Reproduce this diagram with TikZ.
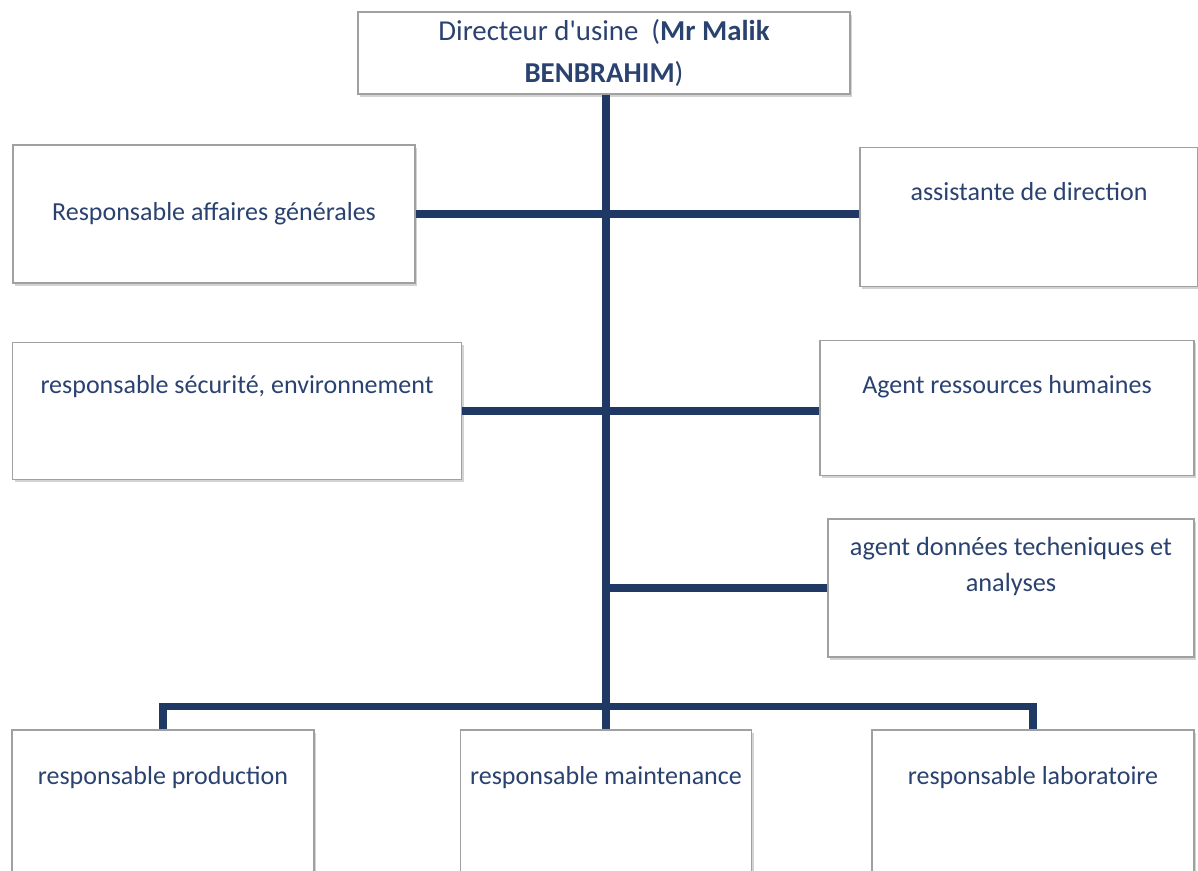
\documentclass[tikz,border=0pt]{standalone}
\usepackage{fontspec}
\setmainfont{Carlito}
\usetikzlibrary{shadows}

\definecolor{navy}{RGB}{31,56,100}
\definecolor{boxgray}{RGB}{160,160,160}
\definecolor{textblue}{RGB}{42,66,112}

\tikzset{
  orgbox/.style={draw=boxgray, line width=1.1pt, fill=white, text=textblue,
    align=center, inner sep=0pt,
    drop shadow={shadow xshift=1.5pt, shadow yshift=-2pt, opacity=0.35},
    font=\fontsize{18.5}{22}\selectfont},
  liftby/.style={text height=0pt, text depth=#1},
  link/.style={draw=navy, line width=5pt}
}

\begin{document}
\begin{tikzpicture}[x=0.025cm, y=-0.025cm]

  \useasboundingbox (0,0) rectangle (1198,870);

  % boxes
  \node[orgbox, minimum width=492*0.025cm, minimum height=82*0.025cm,
    font=\fontsize{20.5}{30}\selectfont] (dir) at (604,53)
    {Directeur d\textquotesingle usine\ \ (\textbf{Mr Malik}\\ \textbf{BENBRAHIM})};

  \node[orgbox, minimum width=402*0.025cm, minimum height=138*0.025cm] (aff) at (214,214)
    {Responsable affaires générales};
  \node[orgbox, minimum width=338*0.025cm, minimum height=139*0.025cm, liftby=23.5pt] (assist) at (1029,217)
    {assistante de direction};

  \node[orgbox, minimum width=449*0.025cm, minimum height=137*0.025cm, liftby=25pt] (secu) at (237,411)
    {responsable sécurité, environnement};
  \node[orgbox, minimum width=374*0.025cm, minimum height=135*0.025cm, liftby=20.6pt] (rh) at (1007,408)
    {Agent ressources humaines};

  \node[orgbox, minimum width=366*0.025cm, minimum height=138*0.025cm,
    font=\fontsize{18.7}{25}\selectfont, text height=4.3pt, text depth=0pt] (donnees) at (1011,588)
    {agent données techeniques et\\ analyses};

  \node[orgbox, minimum width=302*0.025cm, minimum height=142*0.025cm, liftby=23pt] (prod) at (163,801)
    {responsable production};
  \node[orgbox, minimum width=291*0.025cm, minimum height=142*0.025cm, liftby=23pt] (maint) at (606,801)
    {responsable maintenance};
  \node[orgbox, minimum width=322*0.025cm, minimum height=142*0.025cm, liftby=23pt] (labo) at (1033,801)
    {responsable laboratoire};

  % links
  \draw[link] (dir.south -| maint.north) -- (maint.north);
  \draw[link] (aff.east) -- (aff.east -| assist.west);
  \draw[link] (secu.east) -- (secu.east -| rh.west);
  \draw[link] (donnees.west) -- (donnees.west -| maint.north);
  \draw[link] (prod.north) -- ++(0,-23) -| (labo.north);

\end{tikzpicture}
\end{document}
